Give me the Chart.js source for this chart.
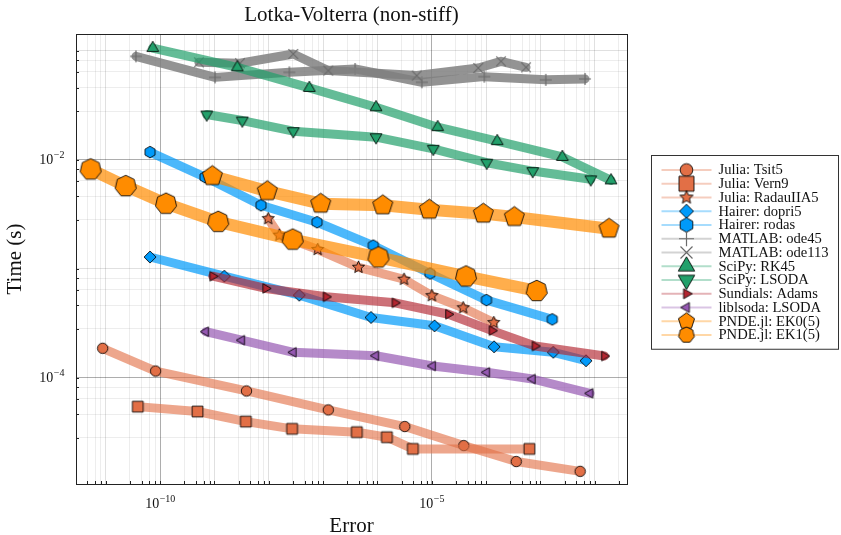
<!DOCTYPE html>
<html>
<head>
<meta charset="utf-8">
<script src="https://cdn.jsdelivr.net/npm/chart.js@4.4.1/dist/chart.umd.min.js"></script>
<style>
  html, body { margin: 0; padding: 0; background: #fff; }
</style>
</head>
<body>
<canvas id="chart" width="841" height="535"></canvas>
<script>
// values: error (x) and run time in seconds (y)
const tsit5Err = [8.8e-12, 8.3e-11, 3.9e-9, 1.25e-7, 3.2e-6, 3.9e-5, 3.6e-4, 5.4e-3];
const tsit5Time = [1.86e-4, 1.15e-4, 7.55e-5, 5.06e-5, 3.56e-5, 2.38e-5, 1.70e-5, 1.38e-5];

const vern9Err = [3.9e-11, 4.9e-10, 3.8e-9, 2.7e-8, 4.2e-7, 1.5e-6, 4.5e-6, 6.3e-4];
const vern9Time = [5.42e-5, 4.89e-5, 3.95e-5, 3.39e-5, 3.16e-5, 2.84e-5, 2.22e-5, 2.22e-5];

const radauErr = [9.8e-9, 1.57e-8, 8.0e-8, 4.5e-7, 3.1e-6, 1.01e-5, 3.8e-5, 1.39e-4];
const radauTime = [2.88e-3, 2.03e-3, 1.50e-3, 1.03e-3, 8.0e-4, 5.66e-4, 4.38e-4, 3.20e-4];

const dopri5Err = [6.55e-11, 1.53e-9, 3.66e-8, 7.66e-7, 1.13e-5, 1.41e-4, 1.73e-3, 6.93e-3];
const dopri5Time = [1.28e-3, 8.53e-4, 5.71e-4, 3.57e-4, 2.99e-4, 1.92e-4, 1.71e-4, 1.43e-4];

const rodasErr = [6.55e-11, 6.73e-10, 7.23e-9, 7.76e-8, 8.43e-7, 9.33e-6, 1.02e-4, 1.66e-3];
const rodasTime = [1.175e-2, 6.93e-3, 3.82e-3, 2.67e-3, 1.63e-3, 9.04e-4, 5.15e-4, 3.43e-4];

const ode45Err = [3.6e-11, 1.03e-9, 2.4e-8, 3.9e-7, 6.6e-6, 9.3e-5, 1.26e-3, 6.65e-3];
const ode45Time = [0.0889, 0.0570, 0.0634, 0.0681, 0.0514, 0.0579, 0.0541, 0.0552];

const ode113Err = [5.2e-10, 2.96e-9, 2.84e-8, 1.25e-7, 5.3e-6, 7.2e-5, 1.89e-4, 5.46e-4];
const ode113Time = [0.0783, 0.0769, 0.0935, 0.0658, 0.0592, 0.0695, 0.0800, 0.0705];

const rk45Err = [7.35e-11, 2.65e-9, 5.6e-8, 9.46e-7, 1.29e-5, 1.61e-4, 2.54e-3, 2.0e-2];
const rk45Time = [0.106, 0.0705, 0.0456, 0.0303, 0.0199, 0.0148, 0.0106, 0.00646];

const scipyLsodaErr = [7.24e-10, 3.27e-9, 2.84e-8, 9.46e-7, 1.07e-5, 1.03e-4, 7.24e-4, 8.47e-3];
const scipyLsodaTime = [0.0260, 0.0229, 0.0183, 0.0161, 0.0126, 0.00939, 0.00787, 0.00661];

const adamsErr = [9.33e-10, 8.83e-9, 1.14e-7, 2.11e-6, 2.04e-5, 1.29e-4, 7.98e-4, 1.51e-2];
const adamsTime = [8.53e-4, 6.59e-4, 5.52e-4, 4.86e-4, 3.82e-4, 2.70e-4, 1.95e-4, 1.58e-4];

const liblsodaErr = [6.93e-10, 3.19e-9, 2.84e-8, 9.33e-7, 1.04e-5, 1.03e-4, 7.13e-4, 8.22e-3];
const liblsodaTime = [2.64e-4, 2.21e-4, 1.71e-4, 1.59e-4, 1.28e-4, 1.12e-4, 9.72e-5, 7.19e-5];

const ek0Err = [9.18e-10, 9.44e-9, 9.08e-8, 1.26e-6, 9.06e-6, 8.93e-5, 3.32e-4, 1.84e-2];
const ek0Time = [7.08e-3, 5.15e-3, 3.95e-3, 3.82e-3, 3.48e-3, 3.20e-3, 2.98e-3, 2.33e-3];

const ek1Err = [5.3e-12, 2.34e-11, 1.29e-10, 1.18e-9, 2.77e-8, 1.05e-6, 4.29e-5, 8.57e-4];
const ek1Time = [8.15e-3, 5.73e-3, 3.95e-3, 2.69e-3, 1.85e-3, 1.27e-3, 8.49e-4, 6.25e-4];

const seriesNames = [
  'Julia: Tsit5', 'Julia: Vern9', 'Julia: RadauIIA5',
  'Hairer: dopri5', 'Hairer: rodas',
  'MATLAB: ode45', 'MATLAB: ode113',
  'SciPy: RK45', 'SciPy: LSODA',
  'Sundials: Adams', 'liblsoda: LSODA',
  'PNDE.jl: EK0(5)', 'PNDE.jl: EK1(5)'
];
const seriesErr = [tsit5Err, vern9Err, radauErr, dopri5Err, rodasErr, ode45Err, ode113Err,
  rk45Err, scipyLsodaErr, adamsErr, liblsodaErr, ek0Err, ek1Err];
const seriesTime = [tsit5Time, vern9Time, radauTime, dopri5Time, rodasTime, ode45Time, ode113Time,
  rk45Time, scipyLsodaTime, adamsTime, liblsodaTime, ek0Time, ek1Time];

// tick labels: exponents of the labelled decades
const xTickExps = [-10, -5];
const yTickExps = [-2, -4];
const minorSteps = [2.8, 4.6, 6.4, 8.2];

// look of each series (colour, marker, marker radius in plot / legend, band width)
const seriesStyle = [
  { rgb: [226, 111, 70], marker: 'circle', r: 5.2, lr: 6.3, width: 9, alpha: 0.62 },
  { rgb: [226, 111, 70], marker: 'rect', r: 5.4, lr: 7.5, width: 9, alpha: 0.62 },
  { rgb: [226, 111, 70], marker: 'star', r: 6.4, lr: 7, width: 9, alpha: 0.62 },
  { rgb: [0, 154, 250], marker: 'diamond', r: 6, lr: 7, width: 9, alpha: 0.7 },
  { rgb: [0, 154, 250], marker: 'hexagon', r: 5.8, lr: 7.3, width: 9, alpha: 0.7 },
  { rgb: [128, 128, 128], marker: 'cross', r: 6, lr: 7.5, width: 9, alpha: 0.85 },
  { rgb: [128, 128, 128], marker: 'xcross', r: 6, lr: 7.5, width: 9, alpha: 0.85 },
  { rgb: [34, 160, 107], marker: 'utri', r: 6.8, lr: 9.5, width: 9, alpha: 0.7 },
  { rgb: [34, 160, 107], marker: 'dtri', r: 6.8, lr: 9.5, width: 9, alpha: 0.7 },
  { rgb: [178, 37, 48], marker: 'rtri', r: 5.5, lr: 5.8, width: 9, alpha: 0.65 },
  { rgb: [149, 88, 178], marker: 'ltri', r: 5.5, lr: 5.8, width: 9, alpha: 0.7 },
  { rgb: [255, 140, 0], marker: 'pentagon', r: 10.5, lr: 8.5, width: 12, alpha: 0.7 },
  { rgb: [255, 140, 0], marker: 'heptagon', r: 10.8, lr: 8, width: 12, alpha: 0.7 }
];

const plotFont = "'Liberation Serif', 'DejaVu Serif', serif";

function rgba(c, a) {
  return 'rgba(' + c[0] + ',' + c[1] + ',' + c[2] + ',' + a + ')';
}

function polygon(ctx, n, r, startDeg) {
  for (let k = 0; k < n; k++) {
    const a = (startDeg + 360 * k / n) * Math.PI / 180;
    const px = r * Math.cos(a), py = r * Math.sin(a);
    if (k === 0) ctx.moveTo(px, py); else ctx.lineTo(px, py);
  }
}

function makeMarker(shape, r, rgb) {
  const size = Math.ceil(2 * r + 4);
  const cv = document.createElement('canvas');
  cv.width = size;
  cv.height = size;
  const ctx = cv.getContext('2d');
  ctx.translate(size / 2, size / 2);
  ctx.lineWidth = 1;
  if (shape === 'cross' || shape === 'xcross') {
    ctx.strokeStyle = '#6a6a6a';
    ctx.lineWidth = 1.2;
    ctx.beginPath();
    if (shape === 'cross') {
      ctx.moveTo(-r, 0); ctx.lineTo(r, 0);
      ctx.moveTo(0, -r); ctx.lineTo(0, r);
    } else {
      const d = r * 0.8;
      ctx.moveTo(-d, -d); ctx.lineTo(d, d);
      ctx.moveTo(-d, d); ctx.lineTo(d, -d);
    }
    ctx.stroke();
    return cv;
  }
  ctx.beginPath();
  switch (shape) {
    case 'circle': ctx.arc(0, 0, r, 0, 2 * Math.PI); break;
    case 'rect': ctx.rect(-r, -r, 2 * r, 2 * r); break;
    case 'diamond': polygon(ctx, 4, r, -90); break;
    case 'hexagon': polygon(ctx, 6, r, -90); break;
    case 'pentagon': polygon(ctx, 5, r, -90); break;
    case 'heptagon': polygon(ctx, 7, r, -90); break;
    case 'utri': polygon(ctx, 3, r, -90); break;
    case 'dtri': polygon(ctx, 3, r, 90); break;
    case 'rtri': polygon(ctx, 3, r, 0); break;
    case 'ltri': polygon(ctx, 3, r, 180); break;
    case 'star':
      for (let k = 0; k < 10; k++) {
        const rr = k % 2 === 0 ? r : r * 0.45;
        const a = (-90 + 36 * k) * Math.PI / 180;
        if (k === 0) ctx.moveTo(rr * Math.cos(a), rr * Math.sin(a));
        else ctx.lineTo(rr * Math.cos(a), rr * Math.sin(a));
      }
      break;
  }
  ctx.closePath();
  ctx.fillStyle = rgba(rgb, 1);
  ctx.fill();
  ctx.strokeStyle = 'rgba(0,0,0,0.85)';
  ctx.stroke();
  return cv;
}

const plotMarkers = seriesStyle.map(s => makeMarker(s.marker, s.r, s.rgb));
const legendMarkers = seriesStyle.map(s => makeMarker(s.marker, s.lr, s.rgb));

const datasets = seriesNames.map((name, i) => ({
  label: name,
  data: seriesErr[i].map((e, j) => ({ x: e, y: seriesTime[i][j] })),
  borderColor: rgba(seriesStyle[i].rgb, seriesStyle[i].alpha),
  borderWidth: seriesStyle[i].width,
  borderJoinStyle: 'round',
  borderCapStyle: 'round',
  tension: 0,
  fill: false,
  pointStyle: plotMarkers[i],
  pointRadius: 5,
  order: seriesNames.length - i
}));

function gridValues(lo, hi) {
  const vals = [];
  for (let e = lo; e <= hi; e++) {
    vals.push({ value: Math.pow(10, e) });
    minorSteps.forEach(m => vals.push({ value: m * Math.pow(10, e) }));
  }
  return vals;
}

function gridColor(tick, labelled) {
  if (!tick) return 'rgba(0,0,0,0)';
  const e = Math.log10(tick.value);
  const re = Math.round(e);
  if (Math.abs(e - re) < 1e-6) {
    return labelled.includes(re) ? 'rgba(0,0,0,0.32)' : 'rgba(0,0,0,0.12)';
  }
  return 'rgba(0,0,0,0.07)';
}

function drawPower(ctx, exp, x, y, align) {
  const base = '10';
  const sup = '\u2212' + Math.abs(exp);
  ctx.font = '14px ' + plotFont;
  const wb = ctx.measureText(base).width;
  ctx.font = '10px ' + plotFont;
  const ws = ctx.measureText(sup).width;
  const x0 = align === 'center' ? x - (wb + ws) / 2 : x - (wb + ws);
  ctx.textAlign = 'left';
  ctx.textBaseline = 'alphabetic';
  ctx.fillStyle = '#111';
  ctx.font = '14px ' + plotFont;
  ctx.fillText(base, x0, y);
  ctx.font = '10px ' + plotFont;
  ctx.fillText(sup, x0 + wb + 0.5, y - 6);
}

const framePlugin = {
  id: 'frame',
  afterDraw(chart) {
    const { ctx, chartArea: a, scales } = chart;
    ctx.save();
    // box frame
    ctx.strokeStyle = '#222';
    ctx.lineWidth = 1;
    ctx.strokeRect(a.left + 0.5, a.top + 0.5, a.right - a.left, a.bottom - a.top);
    // inward tick marks
    ctx.beginPath();
    scales.x.ticks.forEach(t => {
      const px = Math.round(scales.x.getPixelForValue(t.value)) + 0.5;
      ctx.moveTo(px, a.bottom); ctx.lineTo(px, a.bottom - 3);
    });
    scales.y.ticks.forEach(t => {
      const py = Math.round(scales.y.getPixelForValue(t.value)) + 0.5;
      ctx.moveTo(a.left, py); ctx.lineTo(a.left + 3, py);
    });
    ctx.stroke();
    // tick labels as 10^k
    xTickExps.forEach(e => {
      drawPower(ctx, e, scales.x.getPixelForValue(Math.pow(10, e)), a.bottom + 24, 'center');
    });
    yTickExps.forEach(e => {
      drawPower(ctx, e, a.left - 12, scales.y.getPixelForValue(Math.pow(10, e)) + 4.5, 'right');
    });
    // title
    ctx.fillStyle = '#111';
    ctx.font = '21px ' + plotFont;
    ctx.textAlign = 'center';
    ctx.textBaseline = 'middle';
    ctx.fillText('Lotka-Volterra (non-stiff)', (a.left + a.right) / 2, 15);
    ctx.restore();
  }
};

const legendPlugin = {
  id: 'boxLegend',
  afterDraw(chart) {
    const { ctx, chartArea: a } = chart;
    const x0 = a.right + 24.5, y0 = 155.5, w = 187, rowH = 13.75;
    const h = rowH * seriesNames.length + 15;
    ctx.save();
    ctx.fillStyle = '#fff';
    ctx.fillRect(x0, y0, w, h);
    ctx.strokeStyle = '#333';
    ctx.lineWidth = 1;
    ctx.strokeRect(x0, y0, w, h);
    chart.data.datasets.forEach((ds, i) => {
      const y = y0 + 14.5 + i * rowH;
      ctx.strokeStyle = rgba(seriesStyle[i].rgb, 0.35);
      ctx.lineWidth = 2;
      ctx.beginPath();
      ctx.moveTo(x0 + 10, y); ctx.lineTo(x0 + 60, y);
      ctx.stroke();
      const m = legendMarkers[i];
      ctx.drawImage(m, x0 + 35 - m.width / 2, y - m.height / 2);
      ctx.fillStyle = '#111';
      ctx.font = '14.6px ' + plotFont;
      ctx.textAlign = 'left';
      ctx.textBaseline = 'middle';
      ctx.fillText(ds.label, x0 + 67, y + 0.5);
    });
    ctx.restore();
  }
};

new Chart(document.getElementById('chart').getContext('2d'), {
  type: 'line',
  data: { datasets: datasets },
  options: {
    responsive: false,
    animation: false,
    devicePixelRatio: 1,
    layout: { padding: { top: 34, right: 214, bottom: 0, left: 0 } },
    plugins: {
      legend: { display: false },
      tooltip: { enabled: false }
    },
    scales: {
      x: {
        type: 'logarithmic',
        min: Math.pow(10, -11.546),
        max: Math.pow(10, -1.405),
        afterBuildTicks: s => {
          s.ticks = gridValues(-12, -2).filter(t => t.value >= s.min && t.value <= s.max);
        },
        afterFit: s => { s.height = 51; },
        ticks: { display: false, autoSkip: false },
        grid: {
          drawTicks: false,
          lineWidth: 1,
          color: c => gridColor(c.tick, xTickExps)
        },
        border: { display: false },
        title: {
          display: true,
          text: 'Error',
          color: '#111',
          font: { family: plotFont, size: 21 },
          padding: { top: 0, bottom: -4 }
        }
      },
      y: {
        type: 'logarithmic',
        min: Math.pow(10, -4.976),
        max: Math.pow(10, -0.846),
        afterBuildTicks: s => {
          s.ticks = gridValues(-5, -1).filter(t => t.value >= s.min && t.value <= s.max);
        },
        afterFit: s => { s.width = 76; },
        ticks: { display: false, autoSkip: false },
        grid: {
          drawTicks: false,
          lineWidth: 1,
          color: c => gridColor(c.tick, yTickExps)
        },
        border: { display: false },
        title: {
          display: true,
          text: 'Time (s)',
          color: '#111',
          font: { family: plotFont, size: 21 },
          padding: { top: 3, bottom: 0 }
        }
      }
    }
  },
  plugins: [framePlugin, legendPlugin]
});
</script>
</body>
</html>
